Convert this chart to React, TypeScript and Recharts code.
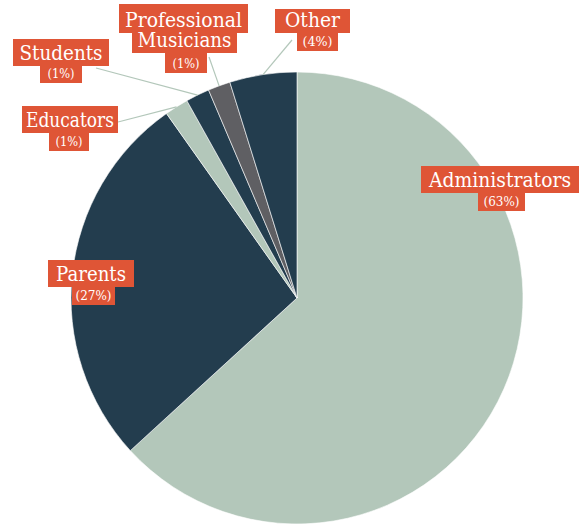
import React from 'react';
import { PieChart, Pie, Cell } from 'recharts';

const categories = ['Administrators', 'Parents', 'Educators', 'Students', 'Professional Musicians', 'Other'];
const shares = [63.2, 27.0, 1.7, 1.7, 1.6, 4.8];
const shareLabels = ['(63%)', '(27%)', '(1%)', '(1%)', '(1%)', '(4%)'];

const sliceColors = ['#b3c7ba', '#233d4e', '#b3c7ba', '#233d4e', '#5f5f63', '#233d4e'];
const LABEL_BG = '#df5536';
const LEADER = '#b3c7ba';
const FONT = "'DejaVu Serif', 'Liberation Serif', serif";

const data = categories.map((name, i) => ({ name, value: shares[i], pct: shareLabels[i] }));

// label box placement (name lines, percent box) and optional leader start
type Box = { x: number; y: number; w: number; h: number; text: string; tw: number };
type LabelLayout = { lines: Box[]; pct: { x: number; y: number; w: number; h: number; tw: number }; leader?: [number, number] };

const layout: Record<string, LabelLayout> = {
  Administrators: {
    lines: [{ x: 421, y: 166, w: 158, h: 27, text: 'Administrators', tw: 142 }],
    pct: { x: 478, y: 193, w: 47, h: 18, tw: 36 },
  },
  Parents: {
    lines: [{ x: 48, y: 260, w: 86, h: 27, text: 'Parents', tw: 70 }],
    pct: { x: 72, y: 287, w: 43, h: 18, tw: 36 },
  },
  Educators: {
    lines: [{ x: 22, y: 106, w: 96, h: 27, text: 'Educators', tw: 88 }],
    pct: { x: 49, y: 133, w: 40, h: 18, tw: 27 },
    leader: [118, 122],
  },
  Students: {
    lines: [{ x: 13, y: 39, w: 96, h: 27, text: 'Students', tw: 83 }],
    pct: { x: 40, y: 66, w: 42, h: 17, tw: 27 },
    leader: [96, 68],
  },
  'Professional Musicians': {
    lines: [
      { x: 119, y: 4, w: 129, h: 29, text: 'Professional', tw: 117 },
      { x: 132, y: 32, w: 105, h: 21, text: 'Musicians', tw: 94 },
    ],
    pct: { x: 165, y: 52, w: 42, h: 21, tw: 27 },
    leader: [209, 57],
  },
  Other: {
    lines: [{ x: 275, y: 9, w: 75, h: 24, text: 'Other', tw: 55 }],
    pct: { x: 297, y: 32, w: 41, h: 19, tw: 30 },
    leader: [292, 40],
  },
};

const RAD = Math.PI / 180;

const renderLabel = (props: any) => {
  const { cx, cy, midAngle, outerRadius, name } = props;
  const l = layout[name];
  if (!l) return null;
  const ex = cx + outerRadius * Math.cos(-midAngle * RAD);
  const ey = cy + outerRadius * Math.sin(-midAngle * RAD);
  return (
    <g>
      {l.leader && (
        <line x1={l.leader[0]} y1={l.leader[1]} x2={ex} y2={ey} stroke={LEADER} strokeWidth={1.2} />
      )}
      {l.lines.map((b, i) => (
        <rect key={'r' + i} x={b.x} y={b.y} width={b.w} height={b.h} fill={LABEL_BG} />
      ))}
      <rect x={l.pct.x} y={l.pct.y} width={l.pct.w} height={l.pct.h} fill={LABEL_BG} />
      {l.lines.map((b, i) => (
        <text
          key={'t' + i}
          x={b.x + b.w / 2}
          y={b.y + b.h - 6}
          textAnchor="middle"
          fill="#fff"
          fontFamily={FONT}
          fontSize={20}
          textLength={b.tw}
          lengthAdjust="spacingAndGlyphs"
        >
          {b.text}
        </text>
      ))}
      <text
        x={l.pct.x + l.pct.w / 2}
        y={l.pct.y + l.pct.h - 5}
        textAnchor="middle"
        fill="#fff"
        fontFamily={FONT}
        fontSize={13}
        textLength={l.pct.tw}
        lengthAdjust="spacingAndGlyphs"
      >
        {props.payload?.pct ?? ''}
      </text>
    </g>
  );
};

export default function App() {
  return (
    <div style={{ position: 'absolute', left: 0, top: 0, width: 581, height: 529, background: '#fff' }}>
      <PieChart width={581} height={529} margin={{ top: 0, right: 0, bottom: 0, left: 0 }}>
        <Pie
          data={data}
          dataKey="value"
          nameKey="name"
          cx={297}
          cy={298}
          outerRadius={226}
          startAngle={90}
          endAngle={-270}
          stroke="#ffffff"
          strokeWidth={0.6}
          label={renderLabel}
          labelLine={false}
          isAnimationActive={false}
        >
          {data.map((d, i) => (
            <Cell key={d.name} fill={sliceColors[i]} />
          ))}
        </Pie>
      </PieChart>
    </div>
  );
}
